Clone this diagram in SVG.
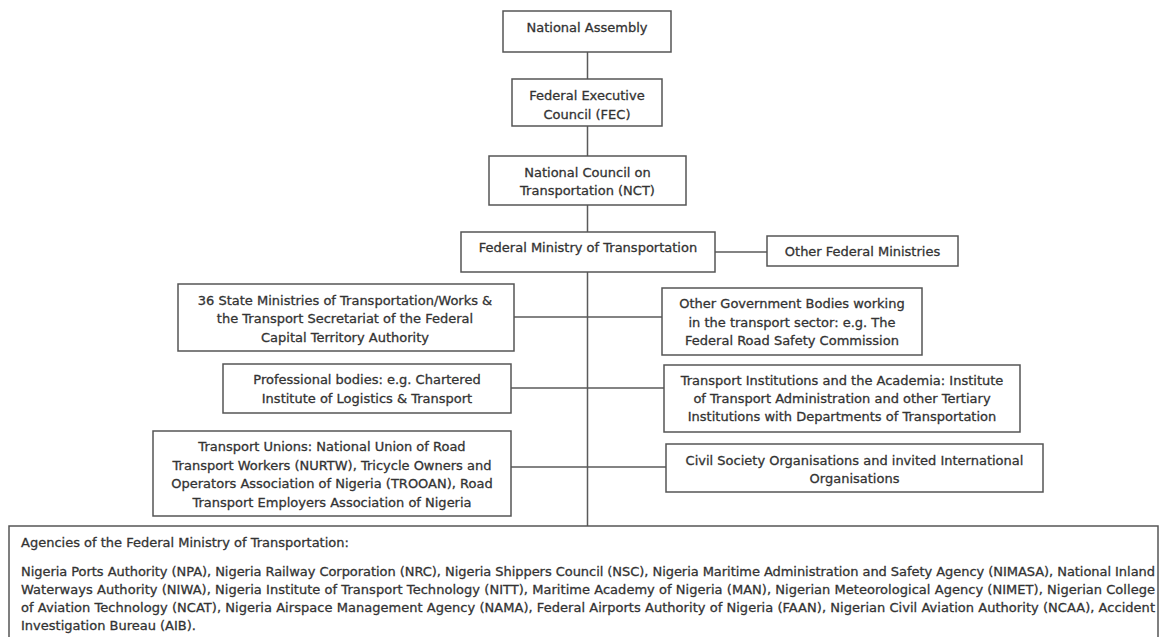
<svg xmlns="http://www.w3.org/2000/svg" width="1162" height="637" viewBox="0 0 1162 637">
<style>
.box{fill:#fff;stroke:#555;stroke-width:1.5}
.t{font-family:"DejaVu Sans","Verdana",sans-serif;font-size:13px;fill:#333;stroke:#333;stroke-width:0.3;text-anchor:middle}
.tl{font-family:"DejaVu Sans","Verdana",sans-serif;font-size:13px;fill:#333;stroke:#333;stroke-width:0.3}
.c{stroke:#5a5a5a;stroke-width:1.5;fill:none}
</style>
<rect width="1162" height="637" fill="#fff"/>
<g id="connectors">
<line class="c" x1="587.5" y1="52" x2="587.5" y2="526"/>
<line class="c" x1="715" y1="252" x2="767" y2="252"/>
<line class="c" x1="514" y1="317" x2="662" y2="317"/>
<line class="c" x1="511" y1="388" x2="664" y2="388"/>
<line class="c" x1="511" y1="467" x2="666" y2="467"/>
</g>
<g id="national-assembly">
<rect class="box" x="503" y="11" width="168" height="41"/>
<text class="t" x="587" y="32">National Assembly</text>
</g>
<g id="fec">
<rect class="box" x="512" y="79" width="150" height="47"/>
<text class="t" x="587" y="99.5">Federal Executive</text>
<text class="t" x="587" y="118.5">Council (FEC)</text>
</g>
<g id="nct">
<rect class="box" x="489" y="156" width="197" height="49"/>
<text class="t" x="587.5" y="176.5">National Council on</text>
<text class="t" x="587.5" y="194.5">Transportation (NCT)</text>
</g>
<g id="fmt">
<rect class="box" x="461" y="232" width="254" height="40"/>
<text class="t" x="588" y="251.5">Federal Ministry of Transportation</text>
</g>
<g id="other-federal-ministries">
<rect class="box" x="767" y="236" width="191" height="30"/>
<text class="t" x="862.5" y="255.5">Other Federal Ministries</text>
</g>
<g id="state-ministries">
<rect class="box" x="178" y="284" width="336" height="67"/>
<text class="t" x="345" y="304.5">36 State Ministries of Transportation/Works &amp;</text>
<text class="t" x="345" y="322.5">the Transport Secretariat of the Federal</text>
<text class="t" x="345" y="341.5">Capital Territory Authority</text>
</g>
<g id="professional-bodies">
<rect class="box" x="223" y="364" width="288" height="49"/>
<text class="t" x="367" y="383.5">Professional bodies: e.g. Chartered</text>
<text class="t" x="367" y="402.5">Institute of Logistics &amp; Transport</text>
</g>
<g id="transport-unions">
<rect class="box" x="153" y="431" width="358" height="85"/>
<text class="t" x="332" y="450.5">Transport Unions: National Union of Road</text>
<text class="t" x="332" y="469.5">Transport Workers (NURTW), Tricycle Owners and</text>
<text class="t" x="332" y="487.5">Operators Association of Nigeria (TROOAN), Road</text>
<text class="t" x="332" y="506.5">Transport Employers Association of Nigeria</text>
</g>
<g id="other-government-bodies">
<rect class="box" x="662" y="288" width="260" height="67"/>
<text class="t" x="792" y="307.5">Other Government Bodies working</text>
<text class="t" x="792" y="326.5">in the transport sector: e.g. The</text>
<text class="t" x="792" y="344.5">Federal Road Safety Commission</text>
</g>
<g id="transport-institutions">
<rect class="box" x="664" y="365" width="356" height="67"/>
<text class="t" x="842" y="384.5">Transport Institutions and the Academia: Institute</text>
<text class="t" x="842" y="402.5">of Transport Administration and other Tertiary</text>
<text class="t" x="842" y="420.5">Institutions with Departments of Transportation</text>
</g>
<g id="civil-society">
<rect class="box" x="666" y="444" width="377" height="48"/>
<text class="t" x="854.5" y="464.5">Civil Society Organisations and invited International</text>
<text class="t" x="854.5" y="482.5">Organisations</text>
</g>
<g id="agencies">
<rect class="box" x="9" y="526" width="1149" height="130"/>
<text class="tl" x="21" y="546.5">Agencies of the Federal Ministry of Transportation:</text>
<text class="tl" x="21" y="575.5" textLength="1134">Nigeria Ports Authority (NPA), Nigeria Railway Corporation (NRC), Nigeria Shippers Council (NSC), Nigeria Maritime Administration and Safety Agency (NIMASA), National Inland</text>
<text class="tl" x="21" y="593.5" textLength="1134">Waterways Authority (NIWA), Nigeria Institute of Transport Technology (NITT), Maritime Academy of Nigeria (MAN), Nigerian Meteorological Agency (NIMET), Nigerian College</text>
<text class="tl" x="21" y="611.5" textLength="1134">of Aviation Technology (NCAT), Nigeria Airspace Management Agency (NAMA), Federal Airports Authority of Nigeria (FAAN), Nigerian Civil Aviation Authority (NCAA), Accident</text>
<text class="tl" x="21" y="630">Investigation Bureau (AIB).</text>
</g>
</svg>
